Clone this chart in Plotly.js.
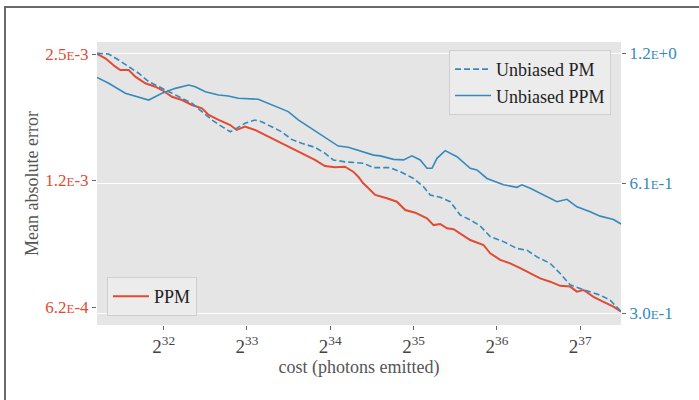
<!DOCTYPE html>
<html>
<head>
<meta charset="utf-8">
<script src="https://cdn.plot.ly/plotly-3.0.1.min.js"></script>
<style>
  html, body { margin: 0; padding: 0; background: #ffffff; }
  #wrap { position: relative; width: 699px; height: 400px; overflow: hidden; }
  #chart { width: 699px; height: 400px; }
  #frame { position: absolute; left: 4px; top: 6px; width: 800px; height: 800px;
           border-left: 2px solid #6a6a6a; border-top: 2px solid #6a6a6a; pointer-events: none; }
</style>
</head>
<body>
<div id="wrap">
  <div id="chart"></div>
  <div id="frame"></div>
</div>
<script>
// ---- data (cost given as log2 exponent) ----
const ppmLog2Cost = [31.200,31.300,31.420,31.480,31.580,31.660,31.780,31.900,31.980,32.100,32.220,32.340,32.460,32.540,32.660,32.800,32.876,32.976,33.096,33.216,33.336,33.456,33.576,33.696,33.816,33.936,34.056,34.176,34.276,34.336,34.396,34.440,34.540,34.680,34.800,34.900,35.020,35.161,35.240,35.320,35.401,35.480,35.560,35.680,35.840,35.920,36.040,36.160,36.280,36.400,36.520,36.640,36.760,36.880,36.960,37.040,37.160,37.280,37.400,37.490];
const ppmError = [2.500e-3,2.442e-3,2.332e-3,2.290e-3,2.290e-3,2.208e-3,2.129e-3,2.090e-3,2.052e-3,1.978e-3,1.943e-3,1.891e-3,1.857e-3,1.790e-3,1.742e-3,1.694e-3,1.649e-3,1.679e-3,1.649e-3,1.604e-3,1.561e-3,1.519e-3,1.478e-3,1.438e-3,1.399e-3,1.353e-3,1.344e-3,1.348e-3,1.312e-3,1.276e-3,1.231e-3,1.208e-3,1.155e-3,1.134e-3,1.113e-3,1.063e-3,1.048e-3,1.016e-3,0.979e-3,0.985e-3,0.962e-3,0.957e-3,0.936e-3,0.902e-3,0.878e-3,0.839e-3,0.809e-3,0.794e-3,0.773e-3,0.752e-3,0.731e-3,0.718e-3,0.702e-3,0.699e-3,0.680e-3,0.686e-3,0.661e-3,0.643e-3,0.626e-3,0.609e-3];

const unbPmLog2Cost = [31.200,31.340,31.460,31.580,31.700,31.820,31.940,32.060,32.220,32.340,32.460,32.580,32.700,32.800,32.856,32.976,33.096,33.176,33.296,33.416,33.536,33.656,33.816,33.936,34.036,34.176,34.396,34.520,34.720,34.840,35.000,35.120,35.200,35.320,35.440,35.560,35.680,35.800,35.920,36.080,36.241,36.361,36.481,36.640,36.760,36.880,37.000,37.120,37.240,37.360,37.490];
const unbPmError = [1.220,1.215,1.177,1.136,1.097,1.049,1.021,0.994,0.960,0.935,0.894,0.855,0.825,0.803,0.814,0.840,0.855,0.847,0.825,0.803,0.771,0.755,0.739,0.716,0.691,0.684,0.679,0.663,0.663,0.649,0.626,0.599,0.573,0.566,0.553,0.515,0.502,0.486,0.459,0.447,0.431,0.427,0.412,0.398,0.377,0.355,0.348,0.342,0.336,0.327,0.308];

const unbPpmLog2Cost = [31.200,31.340,31.540,31.700,31.820,31.980,32.140,32.300,32.380,32.500,32.660,32.776,32.896,33.136,33.256,33.416,33.496,33.616,33.736,33.856,33.976,34.096,34.216,34.296,34.396,34.520,34.600,34.760,34.880,34.980,35.080,35.161,35.221,35.281,35.380,35.521,35.680,35.761,35.881,36.000,36.080,36.241,36.301,36.400,36.560,36.721,36.841,36.961,37.120,37.240,37.400,37.490];
const unbPpmError = [1.073,1.040,0.986,0.968,0.951,0.986,1.012,1.030,1.021,0.994,0.977,0.972,0.960,0.955,0.935,0.910,0.894,0.855,0.825,0.796,0.768,0.744,0.739,0.731,0.722,0.709,0.706,0.693,0.691,0.706,0.691,0.661,0.661,0.697,0.726,0.703,0.661,0.655,0.626,0.613,0.605,0.597,0.605,0.594,0.573,0.553,0.560,0.538,0.524,0.512,0.503,0.491];

const xTickExp = [32, 33, 34, 35, 36, 37];
const xTickText = ['2<sup>32</sup>','2<sup>33</sup>','2<sup>34</sup>','2<sup>35</sup>','2<sup>36</sup>','2<sup>37</sup>'];
const leftTickVals = [2.5e-3, 1.25e-3, 6.25e-4];
const leftTickText = ['2.5<span style="font-size:13px">E</span>-3','1.2<span style="font-size:13px">E</span>-3','6.2<span style="font-size:13px">E</span>-4'];
const rightTickVals = [1.22, 0.61, 0.305];
const rightTickText = ['1.2<span style="font-size:13px">E</span>+0','6.1<span style="font-size:13px">E</span>-1','3.0<span style="font-size:13px">E</span>-1'];

const RED = '#E24A33', BLUE = '#348ABD';
const pow2 = a => a.map(v => Math.pow(2, v));
const L2 = Math.log10(2);

const traces = [
  { x: pow2(unbPmLog2Cost), y: unbPmError, yaxis: 'y2', mode: 'lines', name: 'Unbiased PM',
    line: { color: BLUE, width: 1.6, dash: '6px,3px' }, legend: 'legend' },
  { x: pow2(unbPpmLog2Cost), y: unbPpmError, yaxis: 'y2', mode: 'lines', name: 'Unbiased PPM',
    line: { color: BLUE, width: 1.6 }, legend: 'legend' },
  { x: pow2(ppmLog2Cost), y: ppmError, yaxis: 'y', mode: 'lines', name: 'PPM',
    line: { color: RED, width: 2 }, legend: 'legend2' }
];

const FONT = 'Liberation Serif, Times New Roman, serif';
const layout = {
  width: 699, height: 400,
  margin: { l: 97, r: 78, t: 42, b: 75 },
  paper_bgcolor: 'rgba(0,0,0,0)',
  plot_bgcolor: '#e5e5e5',
  font: { family: FONT, size: 17, color: '#444' },
  xaxis: {
    type: 'log', range: [31.2 * L2, 37.49 * L2],
    tickvals: pow2(xTickExp), ticktext: xTickText,
    ticks: 'outside', ticklen: 4, tickcolor: '#666', showgrid: false, zeroline: false, showline: false,
    tickfont: { size: 19, color: '#444' },
    title: { text: 'cost (photons emitted)', font: { size: 18, color: '#555' }, standoff: 0 }
  },
  yaxis: {
    type: 'log', range: [Math.log10(6.25e-4) - 18 / 126.5 * L2, Math.log10(2.5e-3) + 12 / 126.5 * L2],
    tickvals: leftTickVals, ticktext: leftTickText,
    ticks: 'outside', ticklen: 4, tickcolor: '#666', showgrid: false, zeroline: false, showline: false,
    tickfont: { size: 17, color: RED },
    title: { text: 'Mean absolute error', font: { size: 18, color: '#555' }, standoff: 1 }
  },
  yaxis2: {
    type: 'log', overlaying: 'y', side: 'right',
    range: [Math.log10(0.305) - 11.7 / 130 * L2, Math.log10(1.22) + 11.3 / 130 * L2],
    tickvals: rightTickVals, ticktext: rightTickText,
    ticks: 'outside', ticklen: 4, tickcolor: '#666', showgrid: true, gridcolor: '#ffffff', gridwidth: 1,
    zeroline: false, showline: false,
    tickfont: { size: 17, color: BLUE }
  },
  legend: {
    x: 0.981, xanchor: 'right', y: 0.972, yanchor: 'top',
    bgcolor: 'rgba(236,236,236,0.9)', bordercolor: '#cfcfcf', borderwidth: 1,
    font: { size: 18, color: '#222' }, itemwidth: 36
  },
  legend2: {
    x: 0.019, xanchor: 'left', y: 0.032, yanchor: 'bottom',
    bgcolor: 'rgba(236,236,236,0.9)', bordercolor: '#cfcfcf', borderwidth: 1,
    font: { size: 18, color: '#222' }, itemwidth: 36
  },
  showlegend: true
};

Plotly.newPlot('chart', traces, layout, { displayModeBar: false, staticPlot: true });
</script>
</body>
</html>
